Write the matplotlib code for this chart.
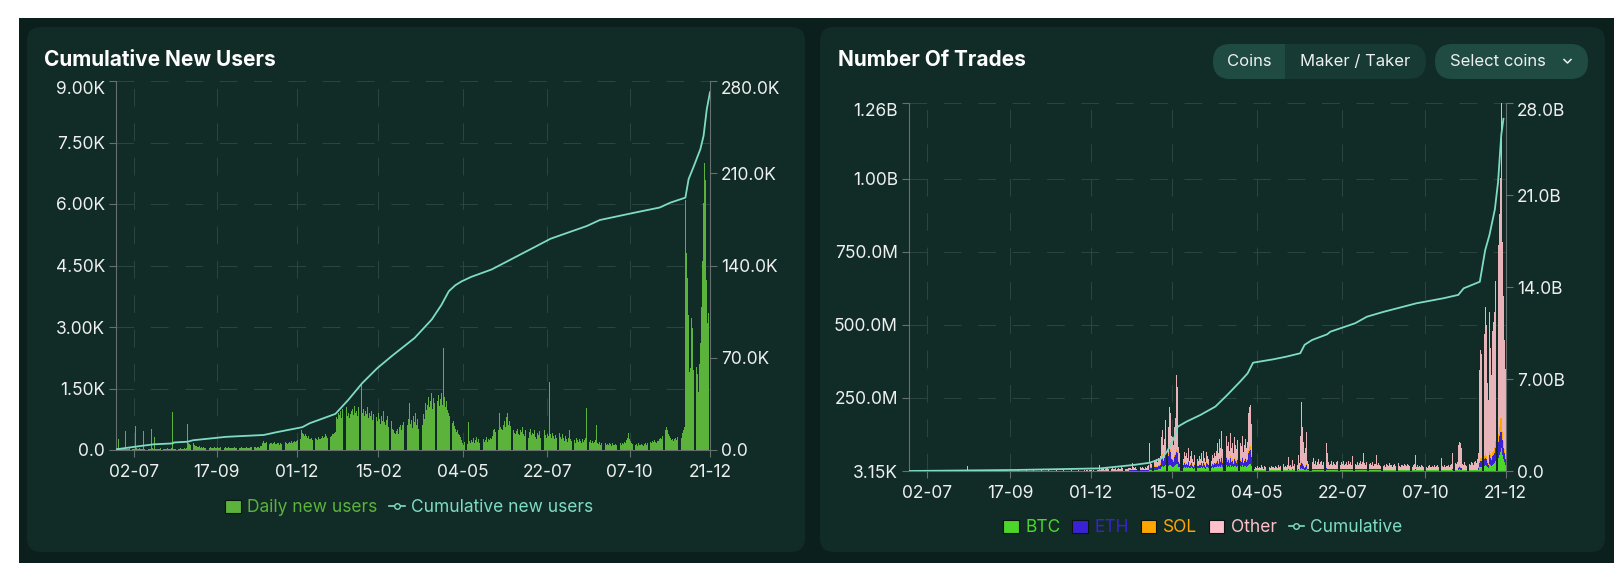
import matplotlib.pyplot as plt
from matplotlib.patches import FancyBboxPatch, Rectangle, Patch
from matplotlib.lines import Line2D
import numpy as np
import pandas as pd

plt.rcParams['font.family'] = ['Inter', 'DejaVu Sans']

# ---- data -------------------------------------------------------------
first_day = "2023-06-15"
tick_days = ["2023-07-02", "2023-09-17", "2023-12-01", "2024-02-15",
             "2024-05-04", "2024-07-22", "2024-10-07", "2024-12-21"]
tick_labels = ["02-07", "17-09", "01-12", "15-02", "04-05", "22-07", "07-10", "21-12"]

# daily new users, one value per day from first_day
daily_new_users = [
    120, 40, 270, 30, 20, 40, 30, 20, 50, 460,
    30, 20, 30, 40, 340, 30, 20, 30, 580, 40,
    30, 20, 40, 30, 20, 30, 460, 30, 20, 40,
    30, 20, 30, 510, 40, 30, 320, 20, 30, 20,
    30, 20, 40, 30, 20, 30, 20, 30, 40, 30,
    20, 30, 40, 920, 30, 20, 30, 40, 20, 30,
    40, 30, 20, 30, 40, 30, 50, 630, 170, 150,
    130, 160, 180, 120, 100, 90, 80, 70, 90, 60,
    70, 60, 80, 50, 60, 70, 50, 60, 80, 50,
    60, 50, 70, 60, 50, 80, 60, 50, 70, 60,
    50, 60, 70, 50, 60, 80, 50, 40, 60, 50,
    60, 70, 50, 60, 40, 50, 60, 70, 50, 60,
    50, 60, 70, 60, 50, 60, 70, 80, 60, 70,
    80, 60, 70, 80, 60, 90, 100, 180, 210, 170,
    160, 190, 150, 140, 170, 180, 150, 160, 190, 140,
    150, 170, 160, 130, 180, 150, 140, 160, 200, 170,
    150, 180, 190, 160, 210, 180, 200, 230, 190, 220,
    250, 200, 260, 490, 420, 380, 350, 400, 330, 300,
    350, 280, 260, 300, 250, 330, 290, 270, 240, 310,
    280, 260, 300, 350, 290, 320, 380, 340, 300, 360,
    320, 350, 400, 380, 420, 450, 810, 760, 900, 850,
    950, 780, 1000, 870, 920, 1050, 830, 900, 780, 880,
    960, 1000, 850, 1070, 900, 940, 820, 1050, 880, 1630,
    900, 1000, 820, 950, 880, 1040, 780, 900, 840, 960,
    720, 880, 1020, 800, 700, 900, 760, 640, 820, 700,
    960, 680, 600, 740, 820, 560, 640, 700, 520, 480,
    420, 380, 460, 520, 400, 560, 620, 480, 600, 680,
    560, 700, 620, 760, 1150, 640, 720, 540, 820, 680,
    900, 600, 760, 520, 840, 700, 620, 880, 760, 1150,
    980, 1100, 1300, 1050, 1200, 1390, 1000, 1280, 1150, 2520,
    1200, 1350, 1080, 1250, 1380, 1100, 2500, 1300, 1050, 1200,
    980, 900, 820, 760, 650, 700, 580, 520, 450, 500,
    400, 360, 320, 250, 180, 120, 200, 80, 150, 690,
    220, 170, 250, 200, 300, 180, 240, 320, 200, 260,
    180, 230, 300, 270, 200, 250, 320, 190, 280, 240,
    300, 260, 350, 480, 520, 450, 540, 500, 900, 560,
    520, 490, 600, 700, 560, 800, 900, 620, 700, 580,
    660, 500, 420, 380, 460, 520, 400, 360, 480, 440,
    560, 400, 340, 480, 380, 300, 440, 520, 360, 420,
    380, 500, 320, 280, 420, 360, 460, 300, 340, 400,
    480, 360, 300, 400, 340, 1670, 380, 300, 420, 350,
    280, 360, 300, 240, 420, 320, 260, 380, 300, 220,
    340, 280, 200, 300, 480, 260, 220, 320, 240, 180,
    300, 240, 200, 280, 220, 180, 260, 200, 240, 300,
    1020, 280, 200, 240, 180, 220, 160, 200, 240, 610,
    180, 150, 200, 120, 160, 140, 100, 180, 130, 150,
    120, 170, 140, 100, 160, 130, 110, 150, 120, 90,
    140, 160, 120, 180, 150, 200, 170, 250, 300, 410,
    280, 220, 180, 150, 200, 120, 140, 100, 160, 130,
    110, 150, 120, 90, 140, 160, 120, 180, 150, 200,
    170, 220, 190, 250, 200, 180, 230, 210, 260, 300,
    280, 350, 420, 500, 560, 480, 400, 350, 300, 250,
    280, 220, 260, 300, 240, 320, 280, 350, 300, 420,
    480, 560, 6100, 4800, 4200, 3300, 1900, 2000, 3220, 2980,
    1950, 1900, 2030, 1850, 1420, 2100, 2600, 3500, 4600, 6020,
    7000, 6580, 4150, 3100, 3340, 2900,
]

cum_users_days = ["2023-06-15", "2023-07-03", "2023-07-20", "2023-08-07", "2023-08-08",
                  "2023-08-21", "2023-08-26", "2023-09-26", "2023-10-31", "2023-11-12",
                  "2023-12-06", "2023-12-13", "2024-01-06", "2024-01-18", "2024-01-31",
                  "2024-02-14", "2024-02-28", "2024-03-20", "2024-04-05", "2024-04-14",
                  "2024-04-21", "2024-04-27", "2024-05-03", "2024-05-12", "2024-05-31",
                  "2024-06-13", "2024-07-09", "2024-07-25", "2024-08-28", "2024-09-09",
                  "2024-10-11", "2024-11-04", "2024-11-14", "2024-11-28", "2024-12-01",
                  "2024-12-06", "2024-12-12", "2024-12-15", "2024-12-18", "2024-12-21"]
cum_users_k = [0.5, 2.5, 4.3, 5.0, 5.7, 6.3, 7.4, 10.0, 11.4, 13.5,
               17.3, 20.3, 27.4, 38.0, 50.7, 62.0, 71.5, 85.0, 99.0, 110.0,
               120.5, 125.0, 128.0, 131.4, 137.0, 142.5, 153.5, 160.3, 170.0, 174.5,
               180.0, 184.0, 187.7, 191.5, 205.5, 215.6, 228.3, 238.4, 258.7, 271.5]

# number of trades per day (millions), "Other" from first_day
trades_other = [
    0, 1, 1, 1, 0, 1, 1, 1, 2, 1,
    1, 1, 0, 1, 1, 2, 1, 1, 1, 1,
    1, 0, 1, 1, 2, 1, 1, 6, 1, 1,
    1, 1, 0, 1, 1, 1, 2, 1, 1, 0,
    1, 1, 1, 2, 1, 1, 1, 0, 1, 1,
    1, 2, 1, 1, 17, 1, 1, 1, 0, 1,
    1, 1, 2, 1, 1, 1, 0, 1, 1, 1,
    2, 1, 1, 1, 0, 1, 1, 1, 2, 1,
    1, 1, 0, 1, 1, 1, 2, 1, 1, 1,
    0, 1, 1, 2, 1, 1, 1, 1, 0, 1,
    1, 1, 2, 1, 1, 0, 1, 1, 1, 2,
    1, 1, 1, 0, 1, 1, 2, 1, 1, 1,
    1, 0, 1, 2, 1, 1, 1, 1, 0, 1,
    2, 1, 1, 1, 1, 0, 1, 2, 1, 1,
    1, 1, 0, 1, 2, 1, 1, 1, 1, 0,
    1, 2, 1, 1, 1, 1, 0, 1, 2, 1,
    1, 1, 1, 2, 1, 3, 2, 1, 2, 3,
    2, 1, 3, 2, 4, 3, 2,
    20, 5, 8, 6, 10, 4, 7, 9, 12, 6, 5, 8, 14, 7, 6, 9, 5, 8, 10, 7,
    6, 12, 9, 5, 7, 8, 6, 10,
    5, 7, 4, 23,
    8, 5, 10, 4, 7, 6, 9, 5, 8, 6, 4, 10, 7, 12, 16,
    63, 17, 13, 61, 22, 20, 22, 17, 24, 19, 24,
    72, 81, 52, 61, 103, 136, 91, 135, 126, 74, 75, 54, 98, 118, 255, 219,
    47, 33, 22, 28, 19, 36, 26,
    33, 24, 46, 17, 26, 40, 20, 13, 30, 42, 20, 17, 26,
    19, 31, 16, 37, 21, 13, 35, 24, 19, 37, 16, 28, 21, 31, 24,
    38, 56, 32, 64, 45, 85, 42, 51, 36, 71, 49, 58, 38, 79, 45, 55, 32, 69, 51, 42,
    62, 38, 55, 49, 71, 36, 51, 64, 45, 58,
    126, 138, 142, 104,
    7, 3, 10, 5, 13, 4, 9, 6, 15, 8, 3, 11, 7, 5, 17, 9, 4, 12, 7, 10,
    5, 13, 8, 6, 15, 9, 11, 7, 20, 10, 13, 8, 15, 40, 11, 17, 9, 30, 13, 19,
    10, 15, 47, 23,
    94, 203, 122, 81, 48, 64, 112,
    28, 18, 33, 13, 23, 38, 18, 28, 13, 23, 33, 18, 23, 28, 13, 23, 33,
    84, 52,
    23, 13, 18, 28, 13, 23, 18, 13, 23, 28, 18, 13, 23, 18, 28, 13, 18, 23, 13, 28,
    18, 23, 13,
    43, 84,
    18, 13, 23, 15, 21, 28, 17, 23, 53, 19, 15, 23, 13, 18, 21, 15, 23, 11, 18, 17,
    48, 13, 19, 15, 11, 17,
    13, 17, 10, 20, 15, 11, 23, 14, 17, 10, 15, 19, 12, 16, 21, 13, 10, 17, 15, 12,
    20, 14, 11, 18, 15, 13, 17, 10, 14, 19,
    48,
    10, 15, 7, 13, 9, 17, 11, 7, 14, 10, 6, 12, 15, 9, 7, 13, 10, 17, 8, 11,
    14, 9, 7, 38, 12, 10, 15, 9, 13, 11, 17, 10, 14, 20,
    53,
    17, 23, 20, 25,
    76, 84, 81, 69,
    20, 15, 25, 17, 13, 23, 19, 15, 27, 21, 17, 25, 30, 23, 35,
    46, 311, 369, 357, 347, 418, 504, 448, 266, 214, 475, 363, 283, 416, 441, 464,
    548, 725, 646, 728, 822, 1079, 650, 498, 375, 300,
]

# BTC / ETH / SOL trades (millions) from 2024-01-06 to the last day
trades_btc = [
    1, 1, 1, 1, 1, 1, 1, 1, 1, 1, 1, 1, 1, 1, 1, 1, 1, 1, 1,
    3, 3, 3, 4, 4, 4, 5, 5, 6, 6, 8,
    15, 18, 14, 16, 20, 22, 18, 22, 20, 16, 15, 14, 18, 20, 25, 24, 15, 12, 10, 12,
    10, 13, 11,
    12, 10, 14, 9, 11, 13, 10, 8, 11, 14, 10, 9, 11,
    10, 13, 9, 14, 11, 8, 13, 12, 10, 14, 9, 12, 11, 13, 12,
    14, 16, 13, 18, 15, 20, 14, 16, 13, 19, 15, 17, 14, 19, 15, 16, 13, 18, 16, 14,
    17, 14, 16, 15, 19, 13, 16, 18, 15, 17,
    22, 25, 24, 18,
    2, 2, 2, 2, 2, 2, 2, 2, 2, 2, 2, 2, 2, 2, 2, 2, 2, 2, 2, 2,
    2, 2, 2, 2, 2, 2, 2, 2, 2, 2, 2, 2, 2, 3, 2, 2, 2, 3, 2, 2,
    2, 2, 3, 2,
    8, 10, 8, 6, 4, 5, 7,
    3, 3, 3, 3, 3, 3, 3, 3, 3, 3, 3, 3, 3, 3, 3, 3, 3,
    4, 3,
    3, 3, 3, 3, 3, 3, 3, 3, 3, 3, 3, 3, 3, 3, 3, 3, 3, 3, 3, 3,
    3, 3, 3,
    3, 4,
    3, 3, 3, 3, 3, 3, 3, 3, 3, 3, 3, 3, 3, 3, 3, 3, 3, 3, 3, 3,
    3, 3, 3, 3, 3, 3,
    2, 2, 2, 2, 2, 2, 2, 2, 2, 2, 2, 2, 2, 2, 2, 2, 2, 2, 2, 2,
    2, 2, 2, 2, 2, 2, 2, 2, 2, 2,
    3,
    2, 2, 2, 2, 2, 2, 2, 2, 2, 2, 2, 2, 2, 2, 2, 2, 2, 2, 2, 2,
    2, 2, 2, 2, 2, 2, 2, 2, 2, 2, 2, 2, 2, 2,
    3,
    2, 2, 2, 2,
    5, 6, 5, 4,
    2, 2, 2, 2, 2, 2, 2, 2, 2, 2, 2, 2, 2, 2, 2,
    5, 12, 15, 15, 14, 18, 20, 18, 12, 10, 25, 20, 16, 22, 25, 28,
    35, 50, 45, 55, 65, 78, 55, 40, 30, 20,
]
trades_eth = [
    2, 2, 2, 2, 2, 2, 2, 2, 2, 2, 2, 2, 2, 2, 2, 2, 2, 2, 2,
    25, 8, 7, 20, 10, 9, 10, 8, 12, 10, 14,
    25, 35, 20, 28, 45, 60, 35, 55, 45, 25, 22, 18, 30, 35, 40, 38, 16, 12, 10, 12,
    9, 14, 10,
    12, 9, 16, 7, 10, 14, 8, 7, 11, 15, 8, 7, 10,
    9, 13, 8, 15, 10, 7, 14, 11, 9, 15, 8, 12, 10, 13, 11,
    14, 18, 12, 22, 16, 26, 15, 18, 13, 24, 17, 20, 14, 25, 16, 19, 12, 22, 18, 15,
    21, 14, 19, 17, 24, 13, 18, 22, 16, 20,
    40, 45, 48, 30,
    2, 2, 2, 2, 2, 2, 2, 2, 2, 2, 2, 2, 2, 2, 2, 2, 2, 2, 2, 2,
    2, 2, 2, 2, 2, 2, 2, 2, 2, 2, 2, 2, 2, 3, 2, 2, 2, 3, 2, 2,
    2, 2, 3, 2,
    14, 18, 15, 10, 6, 8, 12,
    3, 3, 3, 3, 3, 3, 3, 3, 3, 3, 3, 3, 3, 3, 3, 3, 3,
    5, 4,
    3, 3, 3, 3, 3, 3, 3, 3, 3, 3, 3, 3, 3, 3, 3, 3, 3, 3, 3, 3,
    3, 3, 3,
    3, 5,
    3, 3, 3, 3, 3, 3, 3, 3, 3, 3, 3, 3, 3, 3, 3, 3, 3, 3, 3, 3,
    3, 3, 3, 3, 3, 3,
    2, 2, 2, 2, 2, 2, 2, 2, 2, 2, 2, 2, 2, 2, 2, 2, 2, 2, 2, 2,
    2, 2, 2, 2, 2, 2, 2, 2, 2, 2,
    3,
    2, 2, 2, 2, 2, 2, 2, 2, 2, 2, 2, 2, 2, 2, 2, 2, 2, 2, 2, 2,
    2, 2, 2, 2, 2, 2, 2, 2, 2, 2, 2, 2, 2, 2,
    3,
    2, 2, 2, 2,
    6, 7, 6, 5,
    2, 2, 2, 2, 2, 2, 2, 2, 2, 2, 2, 2, 2, 2, 2,
    6, 15, 20, 18, 17, 22, 25, 22, 14, 12, 30, 25, 20, 28, 30, 35,
    45, 60, 55, 65, 70, 57, 50, 40, 30, 20,
]
trades_sol = [
    1, 1, 1, 1, 1, 1, 1, 1, 1, 1, 1, 1, 1, 1, 1, 1, 1, 1, 1,
    4, 2, 2, 4, 2, 2, 3, 2, 3, 3, 4,
    5, 6, 4, 5, 7, 8, 6, 8, 7, 5, 5, 4, 6, 7, 9, 8, 4, 3, 3, 3,
    2, 3, 3,
    3, 2, 4, 2, 3, 3, 2, 2, 3, 4, 2, 2, 3,
    2, 3, 2, 4, 3, 2, 3, 3, 2, 4, 2, 3, 3, 3, 3,
    4, 5, 3, 6, 4, 7, 4, 5, 3, 6, 4, 5, 4, 7, 4, 5, 3, 6, 5, 4,
    5, 4, 5, 4, 6, 3, 5, 6, 4, 5,
    10, 12, 12, 8,
    1, 1, 1, 1, 1, 1, 1, 1, 1, 1, 1, 1, 1, 1, 1, 1, 1, 1, 1, 1,
    1, 1, 1, 1, 1, 1, 1, 1, 1, 1, 1, 1, 1, 1, 1, 1, 1, 1, 1, 1,
    1, 1, 1, 1,
    4, 6, 5, 3, 2, 3, 4,
    1, 1, 1, 1, 1, 1, 1, 1, 1, 1, 1, 1, 1, 1, 1, 1, 1,
    2, 1,
    1, 1, 1, 1, 1, 1, 1, 1, 1, 1, 1, 1, 1, 1, 1, 1, 1, 1, 1, 1,
    1, 1, 1,
    1, 2,
    1, 1, 1, 1, 1, 1, 1, 1, 1, 1, 1, 1, 1, 1, 1, 1, 1, 1, 1, 1,
    1, 1, 1, 1, 1, 1,
    1, 1, 1, 1, 1, 1, 1, 1, 1, 1, 1, 1, 1, 1, 1, 1, 1, 1, 1, 1,
    1, 1, 1, 1, 1, 1, 1, 1, 1, 1,
    1,
    1, 1, 1, 1, 1, 1, 1, 1, 1, 1, 1, 1, 1, 1, 1, 1, 1, 1, 1, 1,
    1, 1, 1, 1, 1, 1, 1, 1, 1, 1, 1, 1, 1, 1,
    1,
    1, 1, 1, 1,
    3, 3, 3, 2,
    1, 1, 1, 1, 1, 1, 1, 1, 1, 1, 1, 1, 1, 1, 1,
    3, 8, 10, 10, 9, 12, 14, 12, 8, 7, 15, 12, 10, 14, 15, 18,
    22, 30, 28, 32, 45, 45, 30, 22, 15, 10,
]

cum_trades_days = ["2023-06-15", "2023-09-23", "2023-12-10", "2024-01-10", "2024-01-25",
                   "2024-02-05", "2024-02-10", "2024-02-14", "2024-02-17", "2024-02-20",
                   "2024-02-28", "2024-03-12", "2024-03-26", "2024-04-06", "2024-04-18",
                   "2024-04-25", "2024-04-29", "2024-04-30", "2024-05-19", "2024-05-31",
                   "2024-06-13", "2024-06-17", "2024-06-24", "2024-07-08", "2024-07-11",
                   "2024-08-03", "2024-08-14", "2024-08-29", "2024-09-29", "2024-10-24",
                   "2024-11-07", "2024-11-12", "2024-11-27", "2024-12-02", "2024-12-06",
                   "2024-12-11", "2024-12-14", "2024-12-17", "2024-12-19"]
cum_trades_b = [0.0, 0.08, 0.2, 0.46, 0.63, 0.96, 1.47, 2.1, 2.6, 3.37,
                3.75, 4.26, 4.9, 5.78, 6.8, 7.43, 8.07, 8.24, 8.5, 8.7,
                8.96, 9.6, 9.97, 10.4, 10.6, 11.24, 11.74, 12.1, 12.76, 13.14,
                13.4, 13.9, 14.4, 16.8, 17.96, 19.9, 22.0, 25.6, 26.8]

# ---- style ------------------------------------------------------------
FRAME = "#0b201c"
PANEL = "#112b27"
GRID = "#2b4440"
AXIS = "#66706e"
TEXT = "#eef0ef"
GREEN = "#5bb33b"
TEAL = "#7fdcc4"
C_BTC, C_ETH, C_SOL, C_OTHER = "#4cd62b", "#3a22d4", "#ffa500", "#ffc0cb"
OTHER_BAR = "#e8b4ba"
FS = 12.5
DASH = (0, (17, 16))

W, H = 1624, 580
fig = plt.figure(figsize=(W / 100, H / 100), dpi=100, facecolor="white")

bg = fig.add_axes([0, 0, 1, 1])
bg.set_xlim(0, W)
bg.set_ylim(H, 0)
bg.axis("off")
bg.add_patch(Rectangle((19, 18), 1595, 545, color=FRAME, lw=0))


def rounded(x0, y0, x1, y1, r, color):
    p = FancyBboxPatch((x0 + r, y0 + r), x1 - x0 - 2 * r, y1 - y0 - 2 * r,
                       boxstyle=f"round,pad={r}", fc=color, ec="none")
    bg.add_patch(p)
    return p


rounded(27, 27, 805, 552, 14, PANEL)
rounded(820, 27, 1605, 552, 14, PANEL)

# buttons on the trades panel
rounded(1213, 44, 1426, 79, 17.5, "#173a34")
coins_btn = rounded(1213, 44, 1426, 79, 17.5, "#1f4b43")
coins_btn.set_clip_path(Rectangle((1213, 40), 72, 45, transform=bg.transData))
rounded(1435, 44, 1588, 79, 17.5, "#1f4b43")
bg.text(1249, 61.5, "Coins", color=TEXT, fontsize=12, ha="center", va="center")
bg.text(1355, 61.5, "Maker / Taker", color=TEXT, fontsize=12, ha="center", va="center")
bg.text(1498, 61.5, "Select coins", color=TEXT, fontsize=12, ha="center", va="center")
bg.plot([1564, 1567.5, 1571], [59.5, 63, 59.5], color=TEXT, lw=1.1)

bg.text(44, 60, "Cumulative New Users", color="white", fontsize=15,
        fontweight="bold", ha="left", va="center")
bg.text(838, 60, "Number Of Trades", color="white", fontsize=15,
        fontweight="bold", ha="left", va="center")


def style_axes(ax, twin):
    ax.set_facecolor("none")
    twin.set_facecolor("none")
    for s in ["top", "right"]:
        ax.spines[s].set_visible(False)
    for s in ["top", "left", "bottom"]:
        twin.spines[s].set_visible(False)
    for s in ["left", "bottom"]:
        ax.spines[s].set_color(AXIS)
    twin.spines["right"].set_color(AXIS)
    ax.set_axisbelow(True)
    ax.grid(True, color=GRID, linestyle=DASH, linewidth=0.75)
    ax.tick_params(axis="both", colors=AXIS, labelcolor=TEXT, labelsize=FS,
                   length=5, width=0.8)
    ax.tick_params(axis="y", pad=3)
    ax.tick_params(axis="x", pad=5)
    twin.tick_params(axis="y", colors=AXIS, labelcolor=TEXT, labelsize=FS,
                     length=5, width=0.8, pad=3)


def px_rect(x0, y0, x1, y1):
    return [x0 / W, 1 - y1 / H, (x1 - x0) / W, (y1 - y0) / H]


# ---- left: cumulative new users ----------------------------------------
axL = fig.add_axes(px_rect(116, 81, 710, 450))
axL2 = axL.twinx()
style_axes(axL, axL2)

days_users = pd.date_range(first_day, periods=len(daily_new_users), freq="D")
axL.bar(days_users, daily_new_users, width=0.85, color=GREEN, linewidth=0)
axL.set_xlim(days_users[0], days_users[-1])
axL.set_ylim(0, 9000)
axL.set_yticks(np.arange(0, 9001, 1500),
               labels=["0.0", "1.50K", "3.00K", "4.50K", "6.00K", "7.50K", "9.00K"])
axL.set_xticks(pd.to_datetime(tick_days), labels=tick_labels)
axL.get_yticklabels()[-1].set_va("top")

axL2.plot(pd.to_datetime(cum_users_days), cum_users_k, color=TEAL, lw=1.3)
axL2.set_ylim(0, 280)
axL2.set_yticks([0, 70, 140, 210, 280],
                labels=["0.0", "70.0K", "140.0K", "210.0K", "280.0K"])
axL2.get_yticklabels()[-1].set_va("top")

legL = fig.legend(
    handles=[Patch(facecolor=GREEN, edgecolor="#081512", lw=0.8),
             Line2D([0], [0], color=TEAL, lw=1.2, marker="o", markersize=4,
                    markerfacecolor=PANEL, markeredgecolor=TEAL)],
    labels=["Daily new users", "Cumulative new users"],
    loc="center", bbox_to_anchor=(409 / W, 1 - 508 / H), ncol=2, frameon=False,
    fontsize=FS, handlelength=0.9, handleheight=0.7, handletextpad=0.35,
    columnspacing=0.7, borderpad=0)
for t, c in zip(legL.get_texts(), [GREEN, TEAL]):
    t.set_color(c)

# ---- right: number of trades ---------------------------------------------
axR = fig.add_axes(px_rect(909, 103, 1505.6, 471))
axR2 = axR.twinx()
style_axes(axR, axR2)

n = len(trades_other)
days_trades = pd.date_range(first_day, periods=n, freq="D")


def full_length(values):
    v = np.asarray(values, dtype=float)[-n:]
    return np.concatenate([np.zeros(n - len(v)), v])


btc = full_length(trades_btc)
eth = full_length(trades_eth)
sol = full_length(trades_sol)
other = np.asarray(trades_other, dtype=float)

bottom = np.zeros(n)
for vals, col in [(btc, C_BTC), (eth, C_ETH), (sol, C_SOL), (other, OTHER_BAR)]:
    axR.bar(days_trades, vals, bottom=bottom, width=0.85, color=col, linewidth=0)
    bottom = bottom + vals

axR.set_xlim(days_trades[0], days_trades[-1])
axR.set_ylim(0.00315, 1260)
axR.set_yticks([0.00315, 250, 500, 750, 1000, 1260],
               labels=["3.15K", "250.0M", "500.0M", "750.0M", "1.00B", "1.26B"])
axR.set_xticks(pd.to_datetime(tick_days), labels=tick_labels)
axR.get_yticklabels()[-1].set_va("top")

axR2.plot(pd.to_datetime(cum_trades_days), cum_trades_b, color=TEAL, lw=1.3)
axR2.set_ylim(0, 28)
axR2.set_yticks([0, 7, 14, 21, 28], labels=["0.0", "7.00B", "14.0B", "21.0B", "28.0B"])
axR2.get_yticklabels()[-1].set_va("top")

coin_cols = [C_BTC, C_ETH, C_SOL, C_OTHER]
legR = fig.legend(
    handles=[Patch(facecolor=c, edgecolor="#081512", lw=0.8) for c in coin_cols]
    + [Line2D([0], [0], color=TEAL, lw=1.2, marker="o", markersize=4,
              markerfacecolor=PANEL, markeredgecolor=TEAL)],
    labels=["BTC", "ETH", "SOL", "Other", "Cumulative"],
    loc="center", bbox_to_anchor=(1203 / W, 1 - 528 / H), ncol=5, frameon=False,
    fontsize=FS, handlelength=0.9, handleheight=0.7, handletextpad=0.35,
    columnspacing=0.7, borderpad=0)
for t, c in zip(legR.get_texts(), coin_cols + [TEAL]):
    t.set_color(c)

fig.savefig("out.png", dpi=100, facecolor="white")
